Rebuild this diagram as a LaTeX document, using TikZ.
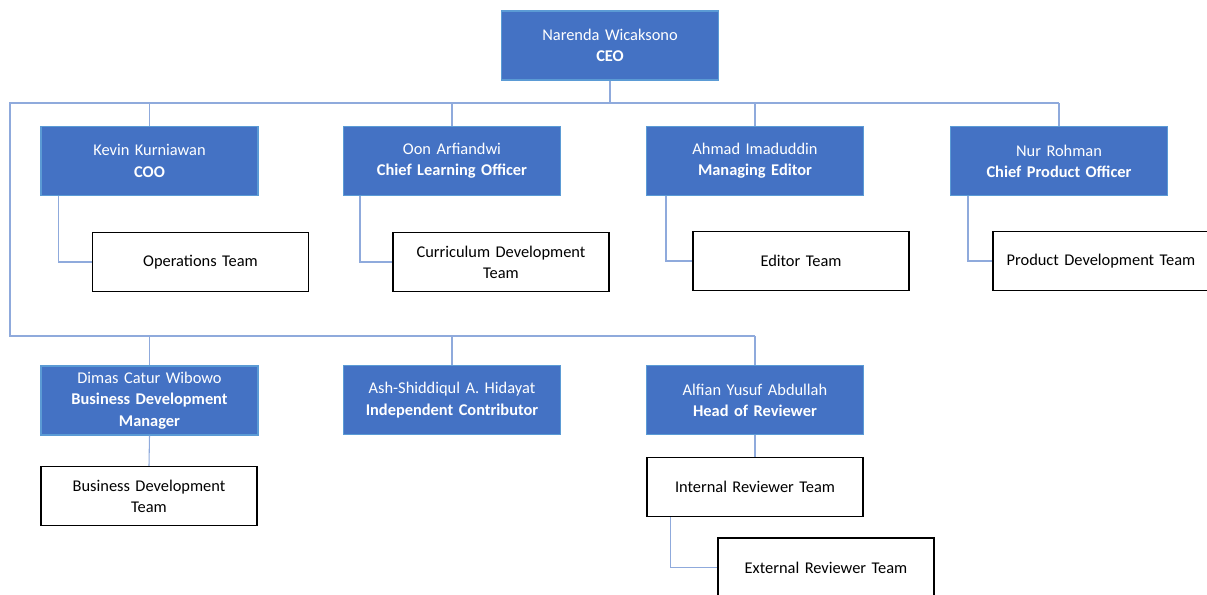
\documentclass[tikz,border=0pt]{standalone}
\usepackage{fontspec}
\setmainfont{Carlito}
\definecolor{boxblue}{HTML}{4472C4}
\definecolor{boxedge}{HTML}{5B9BD5}
\definecolor{linkblue}{HTML}{8FAADC}
\begin{document}
\begin{tikzpicture}[x=0.75pt,y=-0.75pt,
  every node/.style={font=\fontsize{12.3pt}{15.9pt}\selectfont, align=center, inner sep=0pt},
  role/.style={rectangle, fill=boxblue, draw=boxedge, line width=0.8pt, text=white,
    minimum width=162.75pt, minimum height=51.75pt, text width=158pt},
  team/.style={rectangle, fill=white, draw=black, line width=0.9pt,
    minimum width=162pt, minimum height=44.25pt, text width=155pt},
  link/.style={draw=linkblue, line width=0.8pt}]
\useasboundingbox (0,0) rectangle (1207,594);
% roles
\node[role] (ceo) at (610,45.5) {Narenda Wicaksono\\\textbf{CEO}};
\node[role] (coo) at (149.5,161) {Kevin Kurniawan\\\textbf{COO}};
\node[role] (clo) at (452,161) {Oon Arfiandwi\\\textbf{Chief Learning Officer}};
\node[role] (me) at (755,161) {Ahmad Imaduddin\\\textbf{Managing Editor}};
\node[role] (cpo) at (1059,161) {Nur Rohman\\\textbf{Chief Product Officer}};
\node[role] (dim) at (149.5,400.5) {Dimas Catur Wibowo\\\textbf{Business Development}\\\textbf{Manager}};
\node[role] (ash) at (452,400) {Ash-Shiddiqul A. Hidayat\\\textbf{Independent Contributor}};
\node[role] (alf) at (755,400) {Alfian Yusuf Abdullah\\\textbf{Head of Reviewer}};
% teams
\node[team] (ops) at (200.5,262) {Operations Team};
\node[team] (cur) at (501,262) {Curriculum Development\\Team};
\node[team] (ed) at (801,261) {Editor Team};
\node[team] (pd) at (1101,261) {Product Development Team};
\node[team] (bdt) at (149,496) {Business Development\\Team};
\node[team] (irt) at (755,487) {Internal Reviewer Team};
\node[team] (ert) at (826,567.5) {External Reviewer Team};
% bus coordinates
\coordinate (busA) at (10,103);
\coordinate (busB) at (10,336);
% connectors
\draw[link] (ceo.south) -- (ceo.south |- busA);
\draw[link] (cpo.north |- busA) -- (busA) -- (busB) -- (alf.north |- busB);
\draw[link] (coo.north) -- (coo.north |- busA);
\draw[link] (clo.north) -- (clo.north |- busA);
\draw[link] (me.north) -- (me.north |- busA);
\draw[link] (cpo.north) -- (cpo.north |- busA);
\draw[link] (dim.north) -- (dim.north |- busB);
\draw[link] (ash.north) -- (ash.north |- busB);
\draw[link] (alf.north) -- (alf.north |- busB);
\draw[link] (coo.south west) ++(18,0) |- (ops.west);
\draw[link] (clo.south west) ++(17,0) |- (cur.west);
\draw[link] (me.south west) ++(20,0) |- (ed.west);
\draw[link] (cpo.south west) ++(18,0) |- (pd.west);
\draw[link] (dim.south) -- (bdt.north);
\draw[link] (alf.south) -- (irt.north);
\draw[link] (irt.south west) ++(24,0) |- (ert.west);
\end{tikzpicture}
\end{document}
